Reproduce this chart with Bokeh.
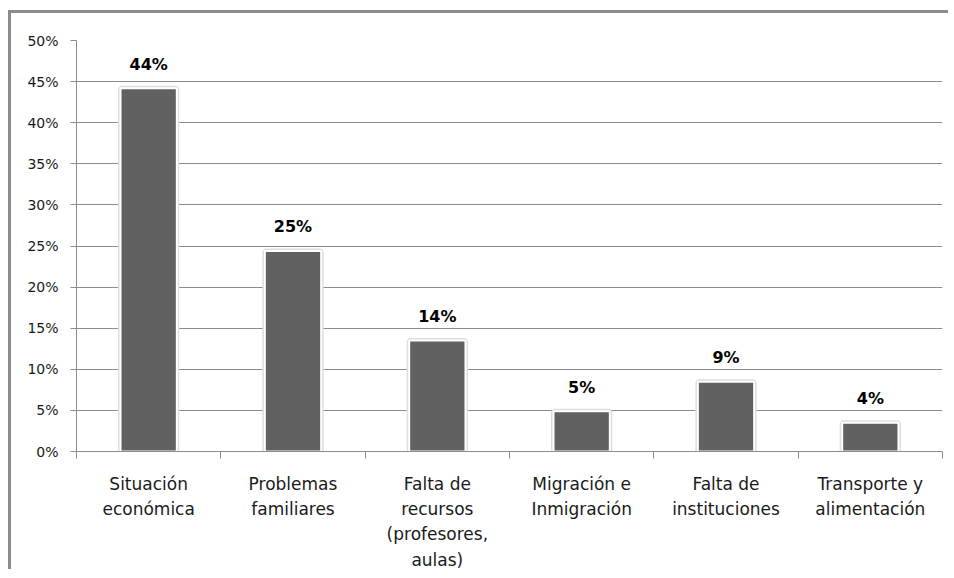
from bokeh.plotting import figure
from bokeh.models import (ColumnDataSource, Range1d, FixedTicker, NumeralTickFormatter,
                          LinearAxis)
from bokeh.core.properties import value
from bokeh.embed import file_html
from bokeh.resources import INLINE

categories = ["Situación\neconómica", "Problemas\nfamiliares",
              "Falta de\nrecursos\n(profesores,\naulas)", "Migración e\nInmigración",
              "Falta de\ninstituciones", "Transporte y\nalimentación"]
values = [0.442, 0.244, 0.135, 0.049, 0.085, 0.035]
value_labels = ["44%", "25%", "14%", "5%", "9%", "4%"]
y_ticks = [0.0, 0.05, 0.10, 0.15, 0.20, 0.25, 0.30, 0.35, 0.40, 0.45, 0.50]

xpos = [i + 0.5 for i in range(len(categories))]
src = ColumnDataSource(dict(x=xpos, top=values, lab=value_labels))

p = figure(width=940, height=559, output_backend="svg", toolbar_location=None,
           x_range=Range1d(0, len(categories)), y_range=Range1d(0, 0.5),
           x_axis_type=None, min_border_left=65, min_border_top=27,
           min_border_right=9, min_border_bottom=120)
p.styles = {"border-left": "3px solid #8c8c8c", "border-top": "3px solid #8c8c8c",
            "margin-top": "10px", "margin-left": "8px"}
p.outline_line_color = None
p.background_fill_color = "white"
p.border_fill_color = "white"

# halo + bars
p.vbar(x="x", top="top", bottom=0, width=0.39, source=src, fill_color="#616161",
       line_color="#dedede", line_width=5)
p.vbar(x="x", top="top", bottom=0, width=0.39, source=src, fill_color="#616161",
       line_color="white", line_width=2)

# x axis: boundary ticks as minor ticks, labels at centers
xa = LinearAxis(ticker=FixedTicker(ticks=xpos, minor_ticks=list(range(len(categories) + 1))))
xa.major_label_overrides = {x: c for x, c in zip(xpos, categories)}
xa.major_tick_out = 0
xa.major_tick_in = 0
xa.minor_tick_out = 7
xa.minor_tick_in = 0
xa.minor_tick_line_color = "#8c8c8c"
xa.axis_line_color = "#8c8c8c"
xa.major_label_standoff = 15
xa.major_label_text_font = "DejaVu Sans"
xa.major_label_text_font_size = "17px"
xa.major_label_text_color = "#1a1a1a"
xa.major_label_text_line_height = 1.27
p.add_layout(xa, "below")

ya = p.yaxis[0]
ya.ticker = FixedTicker(ticks=y_ticks)
ya.formatter = NumeralTickFormatter(format="0%")
ya.major_tick_out = 6
ya.major_tick_in = 0
ya.minor_tick_line_color = None
ya.axis_line_color = "#8c8c8c"
ya.major_tick_line_color = "#8c8c8c"
ya.major_label_standoff = 12
ya.major_label_text_font = "DejaVu Sans"
ya.major_label_text_font_size = "14px"
ya.major_label_text_color = "#1a1a1a"

p.xgrid.grid_line_color = None
p.ygrid.ticker = FixedTicker(ticks=y_ticks)
p.ygrid.grid_line_color = "#8c8c8c"
p.ygrid.grid_line_width = 1

p.text(x="x", y="top", text="lab", source=src, text_align="center",
       text_baseline="alphabetic", y_offset=-24, text_font=value("DejaVu Sans"),
       text_font_style="bold", text_font_size="16px", text_color="black")

open("out.html", "w").write(file_html(p, INLINE))
